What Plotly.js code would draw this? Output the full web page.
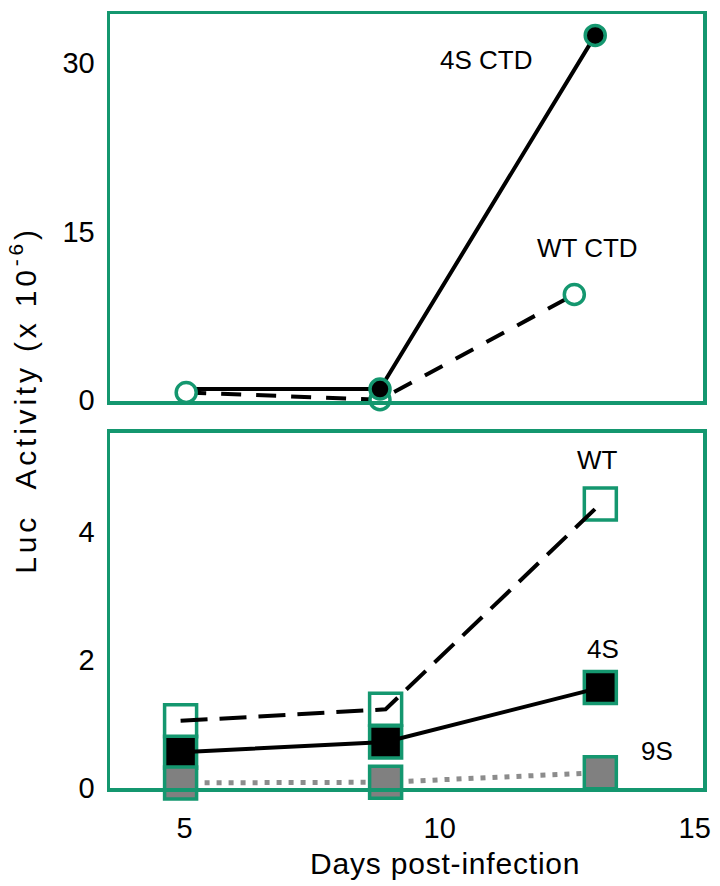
<!DOCTYPE html>
<html>
<head>
<meta charset="utf-8">
<script src="https://cdn.plot.ly/plotly-3.0.1.min.js"></script>
<style>
html,body{margin:0;padding:0;background:#fff;}
#chart{width:720px;height:886px;}
text.annotation-text[data-unformatted^="Luc"]{letter-spacing:3.8px;}
text.annotation-text[data-unformatted^="Days"]{letter-spacing:0.8px;}
</style>
</head>
<body>
<div id="chart"></div>
<script>
// ---- data ----
const xTicks = [5, 10, 15];
const topYTicks = [0, 15, 30];
const bottomYTicks = [0, 2, 4];

// top panel (CTD constructs)
const ctd4SDays = [5.03, 8.83, 13.05];
const ctd4S = [1.0, 1.0, 32.4];
const ctdWTDays = [5.03, 8.83, 12.64];
const ctdWT = [0.7, 0.05, 9.4];

// bottom panel
const days = [4.92, 8.94, 13.15];
const wt = [1.05, 1.23, 4.44];
const s4 = [0.56, 0.72, 1.57];
const s9 = [0.08, 0.09, 0.24];

const GREEN = '#14976f';
const FONT = 'Liberation Sans, Arial, sans-serif';

const traces = [
  // top panel
  {x: ctdWTDays, y: ctdWT, xaxis: 'x2', yaxis: 'y2', mode: 'lines', cliponaxis: false,
   line: {color: '#000', width: 4, dash: '20px,15px'}, hoverinfo: 'skip'},
  {x: ctd4SDays, y: ctd4S, xaxis: 'x2', yaxis: 'y2', mode: 'lines', cliponaxis: false,
   line: {color: '#000', width: 4}, hoverinfo: 'skip'},
  {x: ctdWTDays, y: ctdWT, xaxis: 'x2', yaxis: 'y2', mode: 'markers', cliponaxis: false,
   marker: {symbol: 'circle', size: 20, color: '#fff', line: {color: GREEN, width: 3.5}}},
  {x: ctd4SDays, y: ctd4S, xaxis: 'x2', yaxis: 'y2', mode: 'markers', cliponaxis: false,
   marker: {symbol: 'circle', size: 20, color: '#000', opacity: [0, 1, 1], line: {color: GREEN, width: 3.5}}},
  // bottom panel
  {x: days, y: s9, xaxis: 'x', yaxis: 'y', mode: 'lines', cliponaxis: false,
   line: {color: '#8c8c8c', width: 5, dash: '5px,7px'}, hoverinfo: 'skip'},
  {x: days, y: wt, xaxis: 'x', yaxis: 'y', mode: 'markers', cliponaxis: false,
   marker: {symbol: 'square', size: 32, color: '#fff', line: {color: GREEN, width: 3.5}}},
  {x: days, y: s4, xaxis: 'x', yaxis: 'y', mode: 'markers', cliponaxis: false,
   marker: {symbol: 'square', size: 32, color: '#000', line: {color: GREEN, width: 3.5}}},
  {x: days, y: s9, xaxis: 'x', yaxis: 'y', mode: 'markers', cliponaxis: false,
   marker: {symbol: 'square', size: 32, color: '#808080', line: {color: GREEN, width: 3.5}}},
  {x: days, y: wt, xaxis: 'x', yaxis: 'y', mode: 'lines', cliponaxis: false,
   line: {color: '#000', width: 4, dash: '27px,12px'}, hoverinfo: 'skip'},
  {x: days, y: s4, xaxis: 'x', yaxis: 'y', mode: 'lines', cliponaxis: false,
   line: {color: '#000', width: 4}, hoverinfo: 'skip'}
];

const axisFrame = {showline: true, mirror: true, linecolor: GREEN, linewidth: 3.5,
  showgrid: false, zeroline: false, ticks: '', tickfont: {family: FONT, size: 29, color: '#000'}};

const layout = {
  width: 720, height: 886,
  margin: {l: 110, r: 17, t: 14, b: 98, pad: 0},
  paper_bgcolor: '#fff', plot_bgcolor: '#fff',
  showlegend: false,
  font: {family: FONT, color: '#000'},
  xaxis: Object.assign({}, axisFrame, {domain: [0, 1], anchor: 'y', range: [3.536, 15.163],
    tickmode: 'array', tickvals: xTicks, ticktext: xTicks.map(String), ticklabelstandoff: 12}),
  yaxis: Object.assign({}, axisFrame, {domain: [0, 0.4587], anchor: 'x', range: [0, 5.55],
    tickmode: 'array', tickvals: bottomYTicks, ticktext: bottomYTicks.map(String), ticklabelstandoff: 6}),
  xaxis2: Object.assign({}, axisFrame, {domain: [0, 1], anchor: 'y2', matches: 'x', range: [3.536, 15.163],
    showticklabels: false}),
  yaxis2: Object.assign({}, axisFrame, {domain: [0.5, 1], anchor: 'x2', range: [-0.06, 34.3],
    tickmode: 'array', tickvals: topYTicks, ticktext: topYTicks.map(String), ticklabelstandoff: 6}),
  annotations: [
    {text: 'Luc\u00a0\u00a0Activity (x 10<sup>-6</sup>)', xref: 'paper', yref: 'paper',
     x: -0.146, y: 0.501, textangle: -90, showarrow: false, xanchor: 'center', yanchor: 'middle',
     font: {family: FONT, size: 30, color: '#000'}},
    {text: 'Days post-infection', xref: 'paper', yref: 'paper',
     x: 0.565, y: -0.097, showarrow: false, xanchor: 'center', yanchor: 'middle',
     font: {family: FONT, size: 30, color: '#000'}},
    {text: '4S CTD', xref: 'x2', yref: 'y2', x: 10.91, y: 30.2, showarrow: false,
     font: {family: FONT, size: 26, color: '#000'}},
    {text: 'WT CTD', xref: 'x2', yref: 'y2', x: 12.89, y: 13.5, showarrow: false,
     font: {family: FONT, size: 26, color: '#000'}},
    {text: 'WT', xref: 'x', yref: 'y', x: 13.09, y: 5.13, showarrow: false,
     font: {family: FONT, size: 26, color: '#000'}},
    {text: '4S', xref: 'x', yref: 'y', x: 13.2, y: 2.18, showarrow: false,
     font: {family: FONT, size: 26, color: '#000'}},
    {text: '9S', xref: 'x', yref: 'y', x: 14.26, y: 0.58, showarrow: false,
     font: {family: FONT, size: 26, color: '#000'}}
  ]
};

Plotly.newPlot('chart', traces, layout, {staticPlot: true, displayModeBar: false});
</script>
</body>
</html>
